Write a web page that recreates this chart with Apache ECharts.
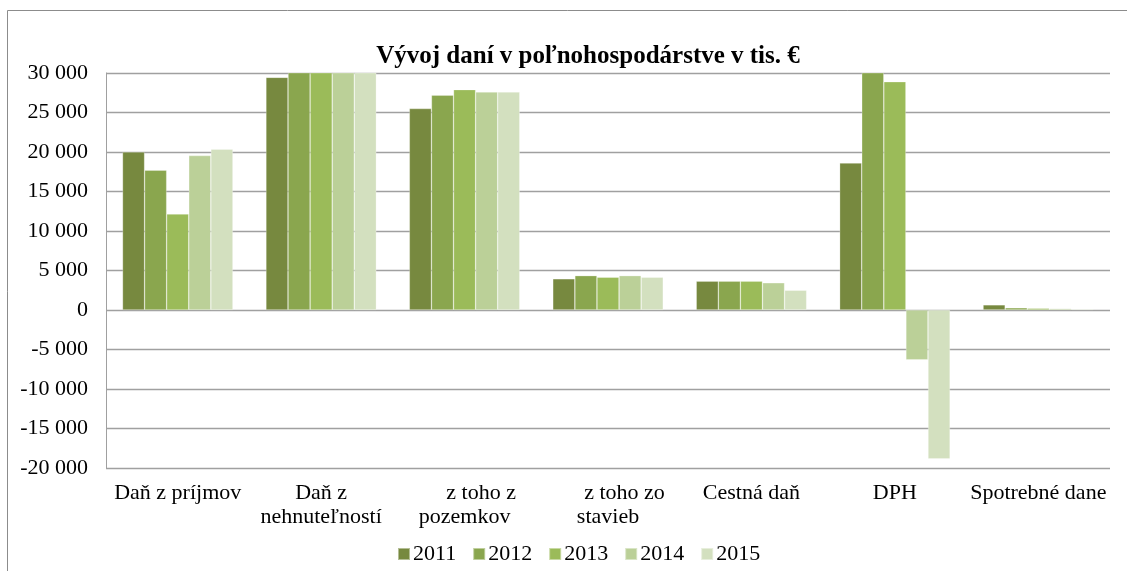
<!DOCTYPE html>
<html>
<head>
<meta charset="utf-8">
<script src="https://cdn.jsdelivr.net/npm/echarts@6/dist/echarts.min.js"></script>
<style>
html,body{margin:0;padding:0;background:#fff;}
#chart{width:1127px;height:571px;}
</style>
</head>
<body>
<div id="chart"></div>
<script>
const categories = ['Daň z príjmov', 'Daň z\nnehnuteľností', '      z toho z\npozemkov', '      z toho zo\nstavieb', 'Cestná daň', 'DPH', 'Spotrebné dane'];
const years = ['2011', '2012', '2013', '2014', '2015'];
const s2011 = [20000, 29450, 25500, 3950, 3650, 18600, 650];
const s2012 = [17700, 31550, 27200, 4350, 3650, 31500, 280];
const s2013 = [12150, 32050, 27900, 4150, 3650, 28900, 220];
const s2014 = [19550, 31950, 27600, 4350, 3450, -6300, 180];
const s2015 = [20350, 31750, 27600, 4150, 2500, -18850, 120];
const colors = ['#77893F', '#8AA64E', '#9BBB59', '#BBD098', '#D3E0BF'];
const yMin = -20000, yMax = 30000, yStep = 5000;

const seriesData = [s2011, s2012, s2013, s2014, s2015];
const font = '"Liberation Serif", "Times New Roman", serif';

function fmt(v) {
  const neg = v < 0;
  let s = String(Math.abs(v));
  s = s.replace(/\B(?=(\d{3})+(?!\d))/g, ' ');
  return (neg ? '-' : '') + s;
}

const chart = echarts.init(document.getElementById('chart'), null, {renderer: 'canvas'});
chart.setOption({
  backgroundColor: '#fff',
  animation: false,
  title: {
    text: 'Vývoj daní v poľnohospodárstve v tis. €',
    left: 583, top: 39, textAlign: 'center',
    textStyle: {fontFamily: font, fontWeight: 'bold', fontSize: 25, color: '#000'}
  },
  graphic: [{
    type: 'rect', shape: {x: 7.5, y: 10.5, width: 1140, height: 600},
    style: {fill: 'none', stroke: '#8c8c8c', lineWidth: 1}, silent: true
  }],
  legend: {
    data: years, left: 392, top: 538, itemWidth: 12, itemHeight: 12, itemGap: 16,
    icon: 'rect',
    textStyle: {fontFamily: font, fontSize: 22, color: '#000', padding: [0, 0, 0, -2]}
  },
  grid: {left: 106, right: 17, top: 73, height: 395, containLabel: false},
  xAxis: {
    type: 'category', data: categories,
    axisLine: {show: false, onZero: false}, axisTick: {show: false},
    axisLabel: {interval: 0, fontFamily: font, fontSize: 22, color: '#000', margin: 13, lineHeight: 24}
  },
  yAxis: {
    type: 'value', min: yMin, max: yMax, interval: yStep,
    axisLine: {show: true, lineStyle: {color: '#a0a0a0', width: 1}},
    axisTick: {show: false},
    splitLine: {lineStyle: {color: '#a0a0a0', width: 1.3}},
    axisLabel: {fontFamily: font, fontSize: 22, color: '#000', margin: 18, formatter: fmt}
  },
  series: years.map((y, i) => ({
    name: y, type: 'bar', data: seriesData[i], clip: true,
    barGap: '0%', barCategoryGap: '23%',
    itemStyle: {color: colors[i], borderColor: 'rgba(255,255,255,0.45)', borderWidth: 0.6}
  }))
});
</script>
</body>
</html>
